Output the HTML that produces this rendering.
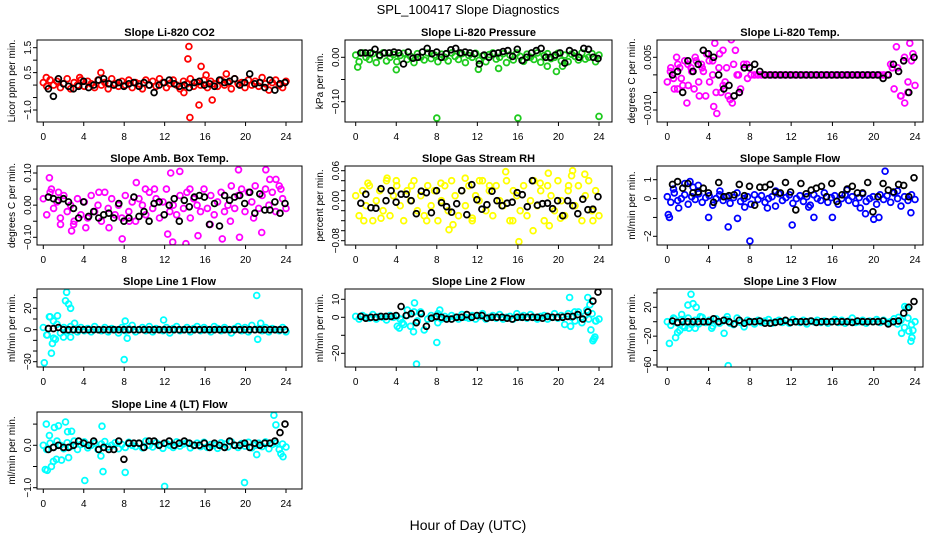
<!DOCTYPE html>
<html><head><meta charset="utf-8">
<style>
html,body{margin:0;padding:0;background:#fff;}
svg{display:block;font-family:"Liberation Sans",Arial,sans-serif;}
</style></head>
<body>
<svg id="c" width="936" height="540" viewBox="0 0 936 540" xmlns="http://www.w3.org/2000/svg">
<rect width="936" height="540" fill="#fff"/>
<text x="468" y="14" text-anchor="middle" font-size="13">SPL_100417  Slope Diagnostics</text>
<text x="468" y="530" text-anchor="middle" font-size="14">Hour of Day (UTC)</text>
</svg>
<script>
// ---- data ----
const xTicks=[0,4,8,12,16,20,24];
const co2Main=[0.1,-0.05,0.2,0.0,0.15,-0.1,0.05,0.25,-0.15,0.1,0.0,0.2,-0.05,0.15,0.05,-0.1,0.2,0.0,0.1,-0.15,0.25,0.05,-0.05,0.15,0.0,0.2,-0.1,0.1,0.05,-0.15,0.2,0.0,0.15,-0.05,0.25,0.1,-0.1,0.05,0.2,0.0,-0.15,0.15,0.05,0.25,-0.05,0.1,0.0,0.2,-0.1,0.15,0.05,-0.05,0.2,0.0,0.1,-0.15,0.25,0.05,0.1,-0.1,0.2,0.0,0.15,-0.05,0.3,0.05,-0.2,0.1,0.2,0.0,-0.1,0.15];
const co2OutX=[14.4,14.3,14.5,15.6,15.4,5.7,16.7,16.1,18.1,13.9,0.3,3.6];
const co2OutY=[1.55,1.05,-1.3,0.75,-0.8,0.5,-0.6,0.4,0.45,-0.3,0.3,0.3];
const co2Black=[-0.15,-0.45,0.25,0.05,-0.05,-0.15,-0.05,0.15,-0.1,0.0,0.2,0.25,0.05,0.0,0.1,-0.05,0.05,0.1,-0.05,0.1,0.0,-0.3,0.0,0.1,0.2,0.05,-0.05,0.0,-0.1,0.1,0.15,0.0,0.05,-0.05,0.2,0.1,0.15,0.25,0.0,0.1,0.45,0.05,0.1,-0.1,0.2,-0.2,0.05,0.1];
const co2Ticks=[1.5,1.0,0.5,0.0,-0.5,-1.0];
const co2Labels=["1.5","","0.5","","","\u22121.0"];

const presMain=[0.005,-0.01,0.01,0.0,-0.005,0.008,-0.012,0.003,0.01,-0.008,0.0,0.006,-0.01,0.004,0.009,-0.005,0.002,-0.012,0.008,0.0,-0.006,0.01,-0.003,0.005,-0.01,0.007,0.0,-0.008,0.01,0.002,-0.005,0.008,-0.012,0.004,0.0,0.009,-0.007,0.003,-0.01,0.006,0.01,-0.004,0.0,0.008,-0.012,0.005,-0.006,0.01,0.002,-0.009,0.007,0.0,-0.005,0.01,-0.011,0.004,0.008,-0.003,0.0,0.009,-0.008,0.005,-0.01,0.007,0.002,-0.006,0.01,-0.004,0.0,0.008,-0.01,0.005];
const presOutX=[0.2,4.0,8.0,12.1,14.1,16.0,18.9,19.8,20.4,24.0];
const presOutY=[-0.022,-0.028,-0.137,-0.027,-0.025,-0.137,-0.02,-0.032,-0.02,-0.133];
const presBlack=[0.01,0.01,0.01,0.018,0.005,0.01,0.01,0.012,0.01,-0.015,0.012,-0.002,0.0,0.012,0.02,0.008,0.012,0.0,0.008,0.017,0.02,0.01,0.012,0.01,0.008,-0.015,0.005,0.0,0.008,0.01,0.013,0.015,0.002,0.018,-0.007,0.0,0.01,0.015,0.02,0.0,0.0,0.005,0.01,-0.013,0.015,0.01,0.0,0.02,0.018,0.0,-0.003];
const presTicks=[0.0,-0.05,-0.10];
const presLabels=["0.00","","\u22120.10"];

const tempMain=[-0.002,0.002,-0.004,0.003,-0.001,0.004,-0.003,0.001,0.005,-0.002,0.002,-0.006,0.004,0.0,-0.005,0.006,-0.003,0.002,-0.007,0.003,0.0,-0.004,0.002,-0.001,0.0,0.0,0.0,0.0,0.0,0.0,0.0,0.0,0.0,0.0,0.0,0.0,0.0,0.0,0.0,0.0,0.0,0.0,0.0,0.0,0.0,0.0,0.0,0.0,0.0,0.0,0.0,0.0,0.0,0.0,0.0,0.0,0.0,0.0,0.0,0.0,0.0,0.0,0.0,0.0,0.003,-0.004,0.002,-0.006,0.005,-0.002,0.004,-0.003];
const tempOutX=[0.9,1.5,2.3,3.1,3.8,4.4,4.6,4.8,4.5,5.4,6.2,6.6,5.9,6.3,2.0,1.0,7.0,7.4,22.2,23.0,23.5,22.6,23.8,0.3,1.9,3.5,5.0,5.6,2.8,6.9,1.2,2.6,4.1,5.2,3.3,0.6,7.7,22.9,23.3,21.8];
const tempOutY=[0.005,-0.003,0.002,-0.006,0.006,0.004,0.009,-0.011,-0.009,0.007,0.01,0.007,-0.006,-0.008,0.003,-0.004,-0.005,0.003,0.008,-0.008,0.009,-0.006,0.006,0.001,-0.008,0.001,0.002,-0.002,0.004,0.0,0.002,-0.004,-0.002,-0.005,0.003,-0.001,0.003,0.004,-0.005,0.002];
const tempBlack=[0.0,0.001,-0.005,0.004,0.001,0.003,0.007,0.006,0.005,0.0,-0.004,-0.003,-0.006,-0.005,0.002,0.002,0.003,0.001,0.0,0.0,0.0,0.0,0.0,0.0,0.0,0.0,0.0,0.0,0.0,0.0,0.0,0.0,0.0,0.0,0.0,0.0,0.0,0.0,0.0,0.0,0.0,-0.001,0.0,0.003,0.001,0.004,-0.005,0.005];
const tempTicks=[0.005,0.0,-0.005,-0.010];
const tempLabels=["0.005","","","\u22120.010"];

const ambMain=[0.02,-0.03,0.04,-0.01,0.01,-0.04,0.03,-0.02,0.0,-0.05,0.02,-0.03,0.01,-0.04,0.03,-0.02,0.0,-0.05,0.04,-0.01,0.02,-0.03,0.0,-0.04,0.03,-0.02,0.01,-0.05,0.02,0.0,-0.03,0.04,-0.01,0.02,-0.04,0.01,0.05,-0.02,0.0,-0.03,0.03,-0.01,0.04,-0.04,0.02,0.0,-0.02,0.05,-0.01,0.03,-0.03,0.01,0.04,-0.02,0.0,0.06,-0.01,0.03,0.05,-0.02,0.04,0.01,0.06,-0.01,0.03,0.05,0.0,0.04,-0.02,0.06,0.02,-0.01];
const ambOutX=[0.6,1.7,2.8,9.2,12.6,13.5,12.3,12.8,14.1,15.3,17.7,19.3,19.4,21.6,22.0,7.8,10.1,22.4,23.0,4.2,6.5,16.5,0.8,1.5,3.0,5.5,8.5,11.0,14.5,18.5,20.8,23.5];
const ambOutY=[0.085,-0.06,-0.08,0.07,0.1,0.105,-0.09,-0.115,-0.12,-0.095,-0.105,0.11,-0.1,-0.085,0.11,-0.105,0.05,0.08,0.08,-0.07,-0.07,-0.06,0.05,0.04,-0.06,0.04,-0.05,0.05,0.05,-0.05,-0.04,0.05];
const ambBlack=[0.025,0.02,0.015,0.02,0.01,-0.01,-0.04,0.01,-0.035,-0.02,-0.04,-0.03,-0.025,-0.04,0.005,-0.05,-0.04,0.025,-0.035,-0.02,-0.05,0.005,0.01,-0.03,0.0,0.02,-0.05,0.015,-0.005,0.025,0.03,0.025,-0.06,0.005,-0.065,0.03,0.015,0.025,0.03,0.005,0.04,-0.025,0.035,-0.015,-0.015,0.01,-0.025,0.005];
const ambTicks=[0.10,0.05,0.0,-0.05,-0.10];
const ambLabels=["0.10","","0.00","","\u22120.10"];

const rhMain=[0.01,-0.03,0.02,-0.01,0.03,-0.04,0.0,0.02,-0.02,0.04,-0.03,0.01,0.03,-0.01,-0.04,0.02,0.0,0.04,-0.02,0.01,-0.03,0.03,-0.01,0.02,-0.04,0.0,0.03,-0.02,0.04,0.01,-0.03,0.02,-0.01,0.03,-0.04,0.01,0.0,0.04,-0.02,0.02,-0.03,0.03,0.0,-0.01,0.04,-0.04,0.02,0.01,-0.02,0.03,-0.03,0.0,0.04,-0.01,0.02,-0.04,0.03,0.01,-0.02,0.04,0.0,-0.03,0.02,0.05,-0.01,0.03,-0.04,0.01,0.04,-0.02,0.02,-0.03];
const rhOutX=[9.2,9.6,16.1,17.5,19.1,14.8,21.4,19.0,22.6,0.8,3.1,4.0,10.8,12.2,1.2,2.5,5.5,7.0,8.4,11.5,13.2,15.5,18.2,20.2,21.0,23.4];
const rhOutY=[-0.058,-0.048,-0.082,-0.06,-0.05,0.058,0.06,0.055,0.053,-0.04,0.045,0.04,0.045,0.04,0.035,-0.035,0.03,-0.04,0.035,-0.035,0.03,-0.04,0.035,-0.035,0.03,-0.04];
const rhBlack=[-0.005,0.013,-0.014,-0.015,0.024,0.0,0.02,-0.003,0.013,0.013,0.0,-0.026,0.019,0.016,-0.024,0.02,-0.004,-0.012,-0.023,-0.006,0.02,-0.028,0.032,0.002,-0.017,-0.008,0.019,0.0,-0.01,-0.005,-0.003,0.016,0.012,-0.012,0.04,-0.009,-0.006,-0.005,-0.016,0.0,-0.03,0.0,-0.01,-0.026,0.003,-0.018,-0.017,0.008];
const rhTicks=[0.06,0.04,0.02,0.0,-0.02,-0.04,-0.06,-0.08];
const rhLabels=["0.06","","","0.00","","","","\u22120.08"];

const sflowMain=[0.1,-0.2,0.3,-0.1,0.0,0.2,-0.3,0.1,-0.05,0.25,-0.2,0.05,0.15,-0.35,0.0,0.2,-0.1,0.1,-0.25,0.05,0.3,-0.15,0.0,0.1,-0.3,0.2,-0.05,0.15,-0.2,0.0,0.1,-0.4,0.25,-0.1,0.05,0.2,-0.25,0.0,0.15,-0.15,0.1,-0.35,0.2,0.0,-0.1,0.3,-0.2,0.05,0.15,-0.3,0.0,0.2,-0.1,0.1,-0.25,0.05,0.25,-0.15,0.0,0.1,-0.3,0.2,-0.05,0.15,-0.2,0.3,0.0,-0.4,0.1,-0.1,0.2,-0.05];
const sflowOutX=[0.1,0.2,2.2,4.0,5.9,6.8,8.0,9.7,12.1,14.2,16.0,19.2,20.0,20.5,21.1,23.6,0.6,3.0,1.7,2.5,1.1,5.1,7.5,10.5,13.7,17.4,18.7,22.3];
const sflowOutY=[-0.85,-1.0,0.9,-1.0,-1.5,-1.05,-2.25,-0.5,-1.4,-1.0,-1.0,-0.8,-1.1,-1.0,1.45,-0.75,0.5,0.7,0.8,0.6,-0.5,0.4,-0.45,0.4,-0.45,0.45,-0.5,0.4];
const sflowBlack=[0.75,0.9,0.55,0.8,0.3,0.35,0.55,0.3,-0.2,0.85,0.1,0.15,0.2,0.75,0.15,0.65,-0.35,0.6,0.6,0.75,0.35,0.3,0.85,0.35,-0.6,0.8,0.25,0.45,0.55,0.65,0.1,0.8,-0.15,0.2,0.5,0.65,0.3,0.3,0.85,-0.7,0.1,0.8,0.45,0.35,0.75,0.7,0.1,1.1];
const sflowTicks=[1,0,-1,-2];
const sflowLabels=["1","0","","\u22122"];

const l1Main=[2,-5,12,-8,5,-3,2,-1,3,0,-2,2,-1,1,-2,3,0,-1,2,-2,1,0,-3,2,-1,1,4,-2,0,2,-1,3,-2,1,0,-1,2,-3,1,3,-1,0,2,-2,1,3,-1,2,0,-2,3,1,-1,2,0,-3,1,3,-1,2,-2,4,0,1,-1,2,-2,1,0,-1,2,-2];
const l1OutX=[0.1,0.6,0.8,0.9,1.2,1.4,1.0,2.2,2.3,2.5,2.7,2.0,2.7,3.1,8.0,8.3,8.1,21.1,21.2,21.5,0.4,11.9];
const l1OutY=[-31,12,-22,-13,-9,13,8,27,35,24,20,-7,-7,6,-28,-8,8,32,-9,6,-5,9];
const l1Black=[1,1,2,0,0,0,0,0,0,0,0,0,0,0,0,0,0,0,0,0,0,0,0,0,0,0,0,0,0,0,0,0,0,0,0,0,0,0,0,0,0,0,0,0,0,0,0,0];
const l1Ticks=[30,20,10,0,-10,-20,-30];
const l1Labels=["","20","","0","","","\u221230"];

const l2Main=[0.5,-1,1,0,-0.5,1.5,-1,0.5,0,-1.5,1,0,0.5,-1,-4,1,-5,3,-2,2,-7,-1,1,0,2,-1,0.5,-0.5,1,0,-1,1.5,0,-0.5,1,-1,0.5,2,-1,0,1,-0.5,1.5,-1,0,0.5,-1,2,0,1,-0.5,1.5,0,-1,0.5,1,-1,0,2,-0.5,1,-4,2,0,-2,3,-3,1,-1,2,-2,-1];
const l2OutX=[4.1,4.3,4.6,5.1,5.8,5.7,6.0,6.4,8.0,8.1,8.3,21.1,21.2,21.6,22.9,23.1,23.2,23.4,23.5,23.6,23.7,22.8];
const l2OutY=[-5,-6,-3,4,8,-8,-26,3,-14,-3,4,11,-5,3,11,7,-7,-13,-12,-11,-2,4];
const l2Black=[0.5,-0.5,0,0,0.5,0.5,0.5,1,6,1,2,-3,2,-5,-0.5,0.5,0,-1,-1,0,0,1.5,0,1,1,-0.5,0,0,0,-0.5,-1,0,0,0,0,0,-0.5,0.5,0,0,0,0.5,0.5,1.5,-1,3,9,14];
const l2Ticks=[10,0,-10,-20];
const l2Labels=["10","0","","\u221220"];

const l3Main=[0,-5,4,-2,3,-8,5,-4,2,-3,6,-1,2,-6,4,-2,1,3,-2,-4,5,-1,-7,2,0,-3,2,-1,1,3,-2,0,2,-1,1,-2,3,0,-1,2,-3,1,0,2,-1,1,-2,0,3,-1,2,-2,1,5,-1,0,2,-2,1,0,3,-1,2,-1,0,4,-3,2,-8,5,-4,0];
const l3OutX=[0.2,0.6,0.8,1.0,1.2,1.4,1.5,2.0,2.3,2.5,2.8,2.1,2.7,3.2,4.3,5.5,5.9,5.8,22.4,22.7,23.0,23.2,23.4,23.6,23.7,23.8];
const l3OutY=[-30,5,-22,-15,-12,10,-6,23,38,25,20,-9,-9,7,-9,-16,-61,7,6,-16,21,19,-13,-27,-22,-12];
const l3Black=[1,-1,0,0,0,0,0,0,4,0,2,0,-3,2,-2,0,0,1,-2,-2,-1,0,2,-1,0,0,0,1,-1,0,0,0,0,0,0,-1,1,0,0,0,0,1,-3,0,1,12,20,28];
const l3Ticks=[40,20,0,-20,-40,-60];
const l3Labels=["","20","","\u221220","","\u221260"];

const l4Main=[0.0,-0.1,0.05,-0.05,0.1,0.0,-0.08,0.06,-0.03,0.1,-0.1,0.02,0.08,-0.06,0.0,0.05,-0.1,0.03,0.09,-0.04,0.0,0.06,-0.08,0.02,-0.05,0.07,0.0,-0.03,0.05,-0.06,0.1,0.0,-0.04,0.06,0.02,-0.07,0.04,0.0,-0.05,0.08,-0.02,0.03,0.06,-0.06,0.0,0.05,-0.03,0.07,-0.05,0.02,0.0,-0.07,0.06,0.03,-0.04,0.08,0.0,-0.05,0.04,-0.02,0.07,-0.06,0.0,0.05,-0.03,0.08,-0.08,0.02,0.05,-0.1,0.03,-0.04];
const l4OutX=[0.2,0.4,0.3,0.6,0.8,1.0,1.1,1.3,1.5,1.8,2.2,2.4,2.8,2.5,4.1,5.8,5.9,5.7,8.1,12.0,19.9,22.8,23.0,23.5,23.7,21.1];
const l4OutY=[-0.57,-0.59,0.5,0.23,-0.5,-0.38,0.42,-0.33,0.46,-0.35,0.55,0.32,0.33,-0.29,-0.83,0.45,-0.62,-0.25,-0.64,-0.97,-0.88,0.71,0.48,-0.2,-0.27,-0.22];
const l4Black=[-0.1,-0.05,0.0,-0.05,-0.05,0.0,0.1,0.05,0.0,0.1,-0.1,-0.05,-0.1,-0.1,0.1,-0.33,0.05,0.05,0.05,-0.05,0.1,0.1,0.0,0.05,0.1,0.0,0.05,0.1,0.05,0.0,0.0,0.05,-0.05,0.05,0.0,-0.05,0.1,0.0,0.0,0.05,-0.05,0.05,0.0,0.05,0.05,0.1,0.3,0.5];
const l4Ticks=[0.5,0.0,-0.5,-1.0];
const l4Labels=["","0.0","","\u22121.0"];

// ---- layout ----
const NS="http://www.w3.org/2000/svg";
const svg=document.getElementById('c');
const cols=[{l:37,r:302,x0:43.3,x24:286},{l:345,r:612,x0:355.7,x24:599},{l:657,r:923,x0:667.3,x24:915}];
const rows=[{t:40,b:122},{t:166,b:245},{t:289,b:367},{t:412,b:489}];
const panels=[
 {name:'co2',title:'Slope Li-820 CO2',yt:'Licor ppm per min.',c:0,r:0,col:'#ff0000',main:co2Main,ox:co2OutX,oy:co2OutY,blk:co2Black,ticks:co2Ticks,labels:co2Labels,ref:[1.5,47.7,-1,110]},
 {name:'pressure',title:'Slope Li-820 Pressure',yt:'kPa per min.',c:1,r:0,col:'#1ecb1e',main:presMain,ox:presOutX,oy:presOutY,blk:presBlack,ticks:presTicks,labels:presLabels,ref:[0,57.3,-0.1,101.7]},
 {name:'temp',title:'Slope Li-820 Temp.',yt:'degrees C per min.',c:2,r:0,col:'#ff00ff',main:tempMain,ox:tempOutX,oy:tempOutY,blk:tempBlack,ticks:tempTicks,labels:tempLabels,ref:[0.005,57.3,-0.01,110]},
 {name:'amb-box-temp',title:'Slope Amb. Box Temp.',yt:'degrees C per min.',c:0,r:1,col:'#ff00ff',main:ambMain,ox:ambOutX,oy:ambOutY,blk:ambBlack,ticks:ambTicks,labels:ambLabels,ref:[0.1,173,-0.1,237.3]},
 {name:'gas-stream-rh',title:'Slope Gas Stream RH',yt:'percent per min.',c:1,r:1,col:'#ffff00',main:rhMain,ox:rhOutX,oy:rhOutY,blk:rhBlack,ticks:rhTicks,labels:rhLabels,ref:[0.06,170.7,-0.08,240.7]},
 {name:'sample-flow',title:'Slope Sample Flow',yt:'ml/min per min.',c:2,r:1,col:'#0000ff',main:sflowMain,ox:sflowOutX,oy:sflowOutY,blk:sflowBlack,ticks:sflowTicks,labels:sflowLabels,ref:[1,179.7,-2,236.3]},
 {name:'line1-flow',title:'Slope Line 1 Flow',yt:'ml/min per min.',c:0,r:2,col:'#00ffff',main:l1Main,ox:l1OutX,oy:l1OutY,blk:l1Black,ticks:l1Ticks,labels:l1Labels,ref:[20,308.3,-30,361.7]},
 {name:'line2-flow',title:'Slope Line 2 Flow',yt:'ml/min per min.',c:1,r:2,col:'#00ffff',main:l2Main,ox:l2OutX,oy:l2OutY,blk:l2Black,ticks:l2Ticks,labels:l2Labels,ref:[10,299.3,-20,353.3]},
 {name:'line3-flow',title:'Slope Line 3 Flow',yt:'ml/min per min.',c:2,r:2,col:'#00ffff',main:l3Main,ox:l3OutX,oy:l3OutY,blk:l3Black,ticks:l3Ticks,labels:l3Labels,ref:[20,307.3,-60,365]},
 {name:'line4-flow',title:'Slope Line 4 (LT) Flow',yt:'ml/min per min.',c:0,r:3,col:'#00ffff',main:l4Main,ox:l4OutX,oy:l4OutY,blk:l4Black,ticks:l4Ticks,labels:l4Labels,ref:[0,445.3,-1,487.7]}
];
function mk(tag,attrs,parent){const e=document.createElementNS(NS,tag);for(const k in attrs)e.setAttribute(k,attrs[k]);(parent||svg).appendChild(e);return e;}

panels.forEach(p=>{
 const C=cols[p.c],R=rows[p.r];
 const g=mk('g',{});
 
 
 const xs=h=>C.x0+(C.x24-C.x0)*h/24;
 const ys=v=>p.ref[1]+(v-p.ref[0])*(p.ref[3]-p.ref[1])/(p.ref[2]-p.ref[0]);
 const cid='clip-'+p.name;
 const cp=mk('clipPath',{id:cid},g);
 mk('rect',{x:C.l,y:R.t,width:C.r-C.l,height:R.b-R.t},cp);
 const pts=mk('g',{'clip-path':'url(#'+cid+')'},g);
 
 
 const dot=(x,y,col,nm)=>{const c=mk('circle',{cx:x.toFixed(1),cy:y.toFixed(1),r:2.9,fill:'none',stroke:col,'stroke-width':1.8},pts);
  
  };
 const n=p.main.length;
 p.main.forEach((v,i)=>dot(xs(i*24/(n-1)),ys(v),p.col,p.name+'-point'));
 p.ox.forEach((h,i)=>dot(xs(h),ys(p.oy[i]),p.col,p.name+'-outlier'));
 const nb=p.blk.length;
 p.blk.forEach((v,i)=>dot(xs(0.5+i*23.4/(nb-1)),ys(v),'#000',p.name+'-black-point'));
 const bx=mk('rect',{x:C.l,y:R.t,width:C.r-C.l,height:R.b-R.t,fill:'none',stroke:'#000','stroke-width':1},g);
 
 
 xTicks.forEach(t=>{
  const x=xs(t);
  mk('line',{x1:x,x2:x,y1:R.b,y2:R.b+4,stroke:'#000'},g);
  const tx=mk('text',{x:x,y:R.b+18,'text-anchor':'middle','font-size':10},g);
  tx.textContent=t;
  
  
 });
 p.ticks.forEach((t,i)=>{
  const y=ys(t);
  mk('line',{x1:C.l-4,x2:C.l,y1:y,y2:y,stroke:'#000'},g);
  if(p.labels[i]){
   const tx=mk('text',{x:C.l-6,y:y,'text-anchor':'middle','font-size':10,transform:'rotate(-90 '+(C.l-6)+' '+y+')'},g);
   tx.textContent=p.labels[i];
   
   
  }
 });
 const tt=mk('text',{x:(C.l+C.r)/2,y:R.t-4,'text-anchor':'middle','font-size':11,'font-weight':'bold'},g);
 tt.textContent=p.title;
 
 
 const yc=(R.t+R.b)/2, yx=C.l-22;
 const yt=mk('text',{x:yx,y:yc,'text-anchor':'middle','font-size':10,transform:'rotate(-90 '+yx+' '+yc+')'},g);
 yt.textContent=p.yt;
 
 
});
</script>
</body></html>
